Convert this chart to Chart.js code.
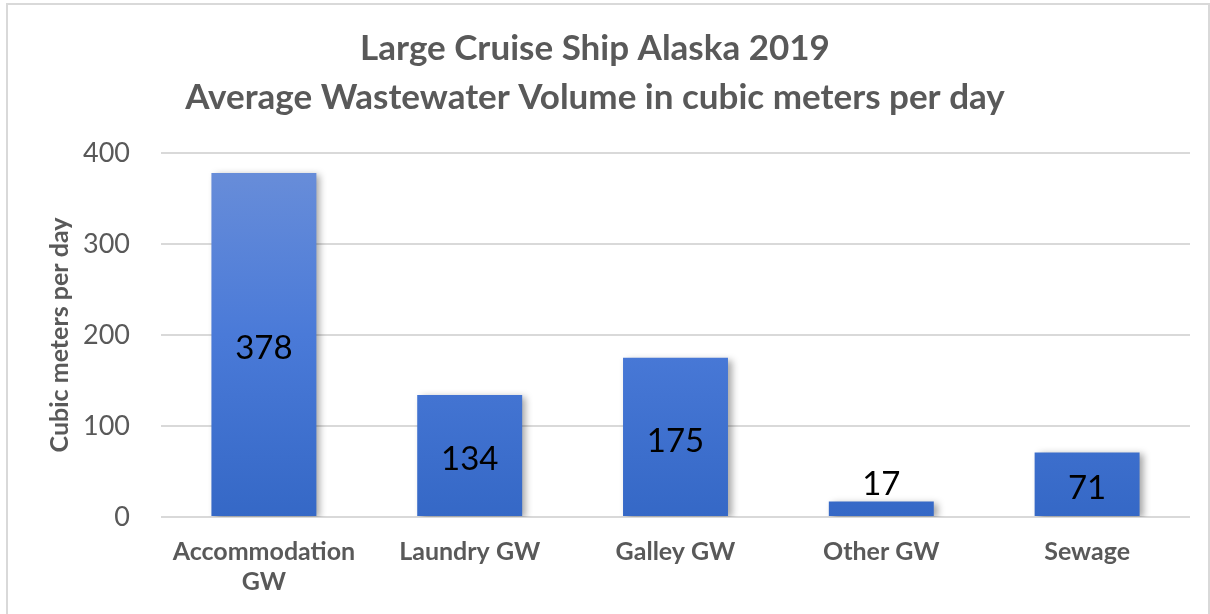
<!DOCTYPE html>
<html>
<head>
<meta charset="utf-8">
<script src="https://cdn.jsdelivr.net/npm/chart.js@4"></script>
<style>
	body { margin: 0; background: #fff; }
	#wrap { position: relative; width: 1210px; height: 614px; }
	#frame { position: absolute; left: 6px; top: 3px; width: 1200px; height: 620px; border-top: 2px solid #d9d9d9; border-left: 2px solid #d9d9d9; border-right: 2px solid #d9d9d9; }
	canvas { position: absolute; left: 0; top: 0; }
</style>
</head>
<body>
<div id="wrap">
	<div id="frame"></div>
	<canvas id="chart" width="1210" height="614"></canvas>
</div>
<script>
// data
const categories = [["Accommodation", "GW"], "Laundry GW", "Galley GW", "Other GW", "Sewage"];
const volumes = [378, 134, 175, 17, 71];
const yTicks = [0, 100, 200, 300, 400];
const titleLines = ["Large Cruise Ship Alaska 2019", "Average Wastewater Volume in cubic meters per day"];
const yTitle = "Cubic meters per day";

const FONT = "Lato, 'Open Sans', sans-serif";

function barGradient(context) {
	let chart = context.chart;
	let area = chart.chartArea;
	if (!area) return "#4a7bd6";
	let g = chart.ctx.createLinearGradient(0, area.top, 0, area.bottom);
	g.addColorStop(0, "#6b8fd9");
	g.addColorStop(0.5, "#4a7ad8");
	g.addColorStop(1, "#3568c6");
	return g;
}

// soft shadow to the right of the bars
const shadowPlugin = {
	id: "barShadow",
	beforeDatasetDraw(chart) {
		let ctx = chart.ctx;
		ctx.save();
		ctx.shadowColor = "rgba(0,0,0,0.35)";
		ctx.shadowBlur = 7;
		ctx.shadowOffsetX = 4;
		ctx.shadowOffsetY = 2;
	},
	afterDatasetDraw(chart) {
		chart.ctx.restore();
	}
};

// value labels, centred in the bar or above when the bar is too short
const valueLabels = {
	id: "valueLabels",
	afterDatasetsDraw(chart) {
		let ctx = chart.ctx;
		let meta = chart.getDatasetMeta(0);
		ctx.save();
		ctx.font = "33px " + FONT;
		ctx.fillStyle = "#000";
		ctx.textAlign = "center";
		ctx.textBaseline = "middle";
		meta.data.forEach((bar, i) => {
			let h = bar.base - bar.y;
			let y = h > 40 ? (bar.y + bar.base) / 2 + 4 : bar.y - 17;
			ctx.fillText(String(volumes[i]), bar.x, y);
		});
		ctx.restore();
	}
};

var ctx = document.getElementById("chart");
var barGraph = new Chart(ctx, {
	type: "bar",
	data: {
		labels: categories,
		datasets: [{
			label: "Volume",
			data: volumes,
			backgroundColor: barGradient,
			borderWidth: 0,
			barPercentage: 0.51,
			categoryPercentage: 1
		}]
	},
	options: {
		responsive: false,
		animation: false,
		layout: { padding: { left: 0, right: 20, top: 0, bottom: 0 } },
		plugins: {
			legend: { display: false },
			tooltip: { enabled: false },
			title: {
				display: true,
				text: titleLines,
				color: "#595959",
				font: { family: FONT, size: 35, weight: "bold", lineHeight: 1.4 },
				padding: { top: 24, bottom: 31 }
			}
		},
		scales: {
			x: {
				grid: { display: false, drawTicks: false },
				border: { display: false },
				ticks: {
					color: "#595959",
					font: { family: FONT, size: 25, weight: "bold", lineHeight: 1.2 },
					padding: 20,
					maxRotation: 0,
					autoSkip: false
				},
				afterFit(scale) { scale.height = 97; }
			},
			y: {
				min: 0,
				max: 400,
				afterBuildTicks(scale) { scale.ticks = yTicks.map(v => ({ value: v })); },
				grid: { color: "#d9d9d9", lineWidth: 2, drawTicks: false },
				border: { display: false },
				ticks: {
					color: "#595959",
					font: { family: FONT, size: 27 },
					padding: 31
				},
				title: {
					display: true,
					text: yTitle,
					color: "#595959",
					font: { family: FONT, size: 25, weight: "bold", lineHeight: 1.2 },
					padding: { top: 45, bottom: 0 }
				},
				afterFit(scale) { scale.width = 161; }
			}
		}
	},
	plugins: [shadowPlugin, valueLabels]
});
</script>
</body>
</html>
